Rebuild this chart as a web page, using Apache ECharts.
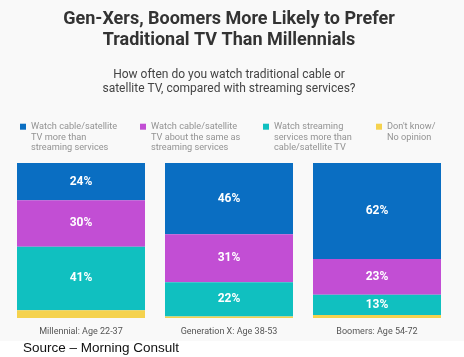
<!DOCTYPE html>
<html><head><meta charset="utf-8">
<script src="https://cdn.jsdelivr.net/npm/echarts@6/dist/echarts.min.js"></script>
<style>html,body{margin:0;padding:0;background:#fff}#c{width:464px;height:357px}</style>
</head><body><div id="c"></div>
<script>
const categories = ['Millennial: Age 22-37', 'Generation X: Age 38-53', 'Boomers: Age 54-72'];
const seriesNames = [
  'Watch cable/satellite\nTV more than\nstreaming services',
  'Watch cable/satellite\nTV about the same as\nstreaming services',
  'Watch streaming\nservices more than\ncable/satellite TV',
  "Don't know/\nNo opinion"
];
const moreCable = [24, 46, 62];
const sameAs = [30, 31, 23];
const moreStreaming = [41, 22, 13];
const dontKnow = [5, 1, 2];
const colors = ['#0a6ec2', '#c24ed4', '#10c0c0', '#f5d24e'];

const values = [moreCable, sameAs, moreStreaming, dontKnow];
const chart = echarts.init(document.getElementById('c'), null, {renderer: 'canvas'});
const legendX = [20, 140, 263, 376];
const LH = 10.5;
const legends = seriesNames.map((n, i) => {
  const lines = n.split('\n').length;
  const h = lines * LH;
  return {
    data: [n], left: legendX[i], top: 121.5, padding: 0, orient: 'horizontal',
    icon: 'path://M0,0L0,0M0,2.2L6,2.2L6,8.2L0,8.2ZM0,' + h + 'L0,' + h,
    itemWidth: 6, itemHeight: h, selectedMode: false,
    textStyle: {fontFamily: 'Roboto', fontSize: 9.2, color: '#939393', lineHeight: LH}
  };
});
chart.setOption({
  backgroundColor: '#f9f9f9',
  animation: false,
  title: [
    {text: 'Gen-Xers, Boomers More Likely to Prefer\nTraditional TV Than Millennials', left: 229, textAlign: 'center', top: 9,
      padding: 0, textStyle: {fontFamily: 'Roboto', fontWeight: 'bold', fontSize: 18, color: '#333', lineHeight: 21}},
    {text: 'How often do you watch traditional cable or\nsatellite TV, compared with streaming services?', left: 229, textAlign: 'center', top: 68,
      padding: 0, textStyle: {fontFamily: 'Roboto', fontWeight: 'normal', fontSize: 12, color: '#444', lineHeight: 14}}
  ],
  legend: legends,
  grid: {left: 7, right: 13, top: 163, bottom: 39},
  xAxis: {type: 'category', data: categories, axisLine: {show: false}, axisTick: {show: false},
    axisLabel: {fontFamily: 'Roboto', fontSize: 9, color: '#555', margin: 9}},
  yAxis: {type: 'value', min: 0, max: 100, show: false, inverse: true},
  graphic: [
    {type: 'rect', left: 0, top: 341, shape: {width: 464, height: 16}, style: {fill: '#fff'}, z: -1},
    {type: 'text', left: 23, top: 341, style: {text: 'Source – Morning Consult', font: '13.5px "Liberation Sans", Arial', fill: '#111'}}
  ],
  series: values.map((v, i) => ({
    name: seriesNames[i], type: 'bar', stack: 'all', data: v, barWidth: 128,
    itemStyle: {color: colors[i]},
    label: {show: i < 3, position: 'inside', formatter: '{c}%', color: '#fff', fontFamily: 'Roboto', fontWeight: 'bold', fontSize: 12}
  }))
});
</script></body></html>
